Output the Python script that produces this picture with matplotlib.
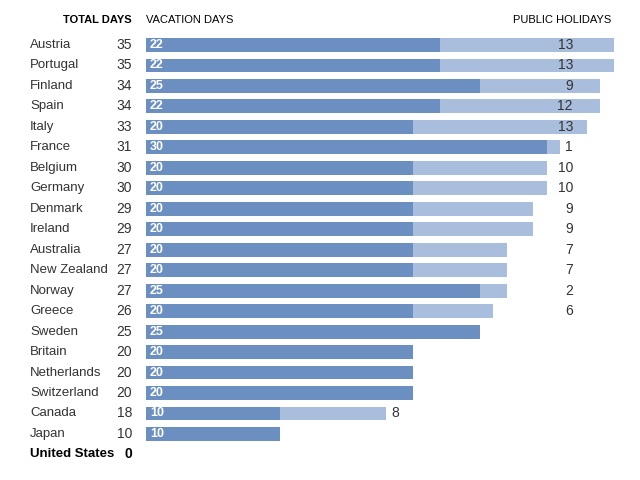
import matplotlib
matplotlib.use("Agg")
import matplotlib.pyplot as plt

countries = ["Austria", "Portugal", "Finland", "Spain", "Italy", "France", "Belgium",
             "Germany", "Denmark", "Ireland", "Australia", "New Zealand", "Norway",
             "Greece", "Sweden", "Britain", "Netherlands", "Switzerland", "Canada",
             "Japan", "United States"]
vacation = [22, 22, 25, 22, 20, 30, 20, 20, 20, 20, 20, 20, 25, 20, 25, 20, 20, 20, 10, 10, 0]
holidays = [13, 13, 9, 12, 13, 1, 10, 10, 9, 9, 7, 7, 2, 6, 0, 0, 0, 0, 8, 0, 0]

dark = "#6a8fc0"
light = "#a9bddc"
txt = "#333333"
plt.rcParams["font.family"] = ["Liberation Sans Narrow", "Liberation Sans", "DejaVu Sans"]

fig = plt.figure(figsize=(6.4, 4.8), dpi=100)
ax = fig.add_axes([0, 0, 1, 1])
px = 13.36  # pixels per day
ax.set_xlim(-146 / px, (640 - 146) / px)
ax.set_ylim((480 - 45) / 20.47, -45 / 20.47)
ax.axis("off")

rows = range(len(countries))
ax.barh(rows, vacation, height=0.68, color=dark, left=0)
ax.barh(rows, holidays, height=0.68, color=light, left=vacation)

x_name = (30 - 146) / px
x_total = (132 - 146) / px
x_hol = (573 - 146) / px
for i, c in enumerate(countries):
    total = vacation[i] + holidays[i]
    bold = c == "United States"
    ax.text(x_name, i, c, ha="left", va="center", fontsize=9.5, color="black" if bold else txt,
            fontweight="bold" if bold else "normal")
    ax.text(x_total, i, str(total), ha="right", va="center", fontsize=10,
            color="black" if bold else txt, fontweight="bold" if bold else "normal")
    if vacation[i] > 0:
        ax.text(4 / px, i, str(vacation[i]), ha="left", va="center", fontsize=9,
                color="white", fontweight="bold")
    if holidays[i] > 0:
        if total >= 25:
            ax.text(x_hol, i, str(holidays[i]), ha="right", va="center", fontsize=10, color=txt)
        else:
            ax.text(total + 5 / px, i, str(holidays[i]), ha="left", va="center",
                    fontsize=10, color=txt)

y_head = -25 / 20.47
ax.text(x_total, y_head, "TOTAL DAYS", ha="right", va="center", fontsize=8,
        fontweight="bold", color="black")
ax.text(0, y_head, "VACATION DAYS", ha="left", va="center", fontsize=8, color="black")
ax.text((611 - 146) / px, y_head, "PUBLIC HOLIDAYS", ha="right", va="center",
        fontsize=8, color="black")

fig.savefig("out.png", dpi=100)
